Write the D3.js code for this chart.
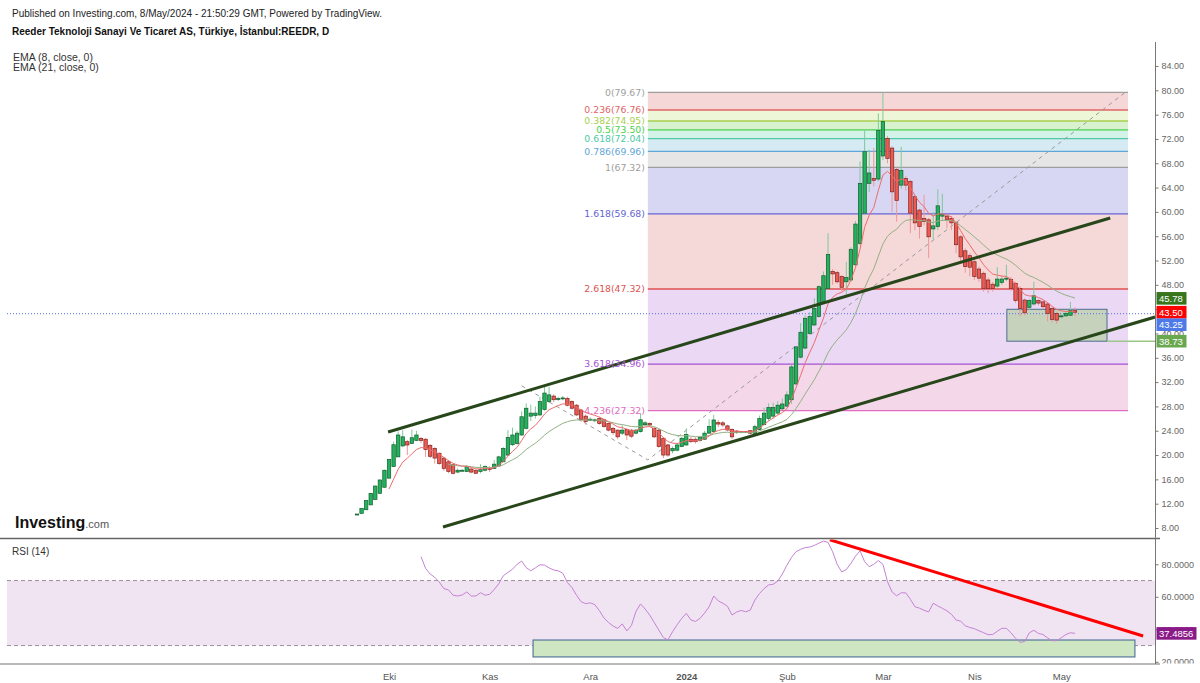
<!DOCTYPE html>
<html><head><meta charset="utf-8">
<script src="https://cdn.jsdelivr.net/npm/d3@7"></script>
<style>body{margin:0;background:#fff}svg{display:block}text{font-family:"Liberation Sans",Arial,sans-serif}</style>
</head><body><svg id="c" width="1200" height="683"></svg>
<script>
// ---------- DATA ----------
const openP=[10.25,10.4,11.0,11.8,12.7,13.7,14.7,16.2,18.1,19.7,
21.5,22.2,21.9,22.4,22.75,22.6,21.6,21.1,20.3,19.5,
18.9,18.4,17.2,17.5,17.3,17.7,17.5,17.3,17.5,17.8,
17.8,18.2,18.9,20.0,21.7,21.9,23.3,24.4,26.4,26.5,
26.6,27.5,28.8,29.7,29.3,29.3,29.3,28.8,28.2,27.4,
26.4,25.9,25.8,26.0,25.8,25.2,24.4,24.1,23.6,24.2,
24.1,23.6,23.85,25.0,25.2,24.4,24.1,22.76,21.66,20.7,
20.8,21.4,21.66,22.6,22.6,22.4,22.6,23.6,23.85,25.33,
25.3,24.8,24.2,23.95,23.85,23.85,24.0,23.58,24.2,25.0,
26.0,26.4,26.9,27.6,28.05,29.1,31.7,36.1,37.6,40.0,
41.4,42.8,45.2,47.4,50.2,50.0,49.35,48.5,48.8,51.3,
54.8,59.8,64.7,65.5,65.4,69.2,72.1,70.5,67.0,64.4,
65.5,65.0,62.5,60.3,58.9,58.7,57.2,57.6,59.3,59.3,
58.9,58.2,55.9,53.6,52.8,51.8,50.6,49.9,48.8,48.1,
47.8,48.4,49.0,48.9,48.25,47.4,45.5,44.3,44.85,45.4,
45.2,44.85,44.1,43.3,42.8,42.9,43.0,43.75];
const highP=[10.3,11.3,12.5,13.8,15.0,16.0,17.6,19.3,22.2,23.9,
24.1,22.5,24.2,24.0,23.0,22.8,21.8,21.3,20.4,19.6,
19.2,18.5,17.8,17.7,18.3,17.9,17.6,18.5,18.3,18.2,
19.2,19.9,21.3,24.1,24.5,24.0,27.2,28.5,28.3,28.0,
29.6,31.3,31.2,30.0,29.6,29.7,29.6,29.0,28.4,27.6,
26.7,26.2,26.0,26.3,25.9,25.3,24.6,24.2,24.9,24.4,
24.3,24.3,26.9,25.6,25.4,24.6,24.3,22.9,21.8,21.4,
22.0,23.0,24.4,23.0,22.9,23.2,24.0,25.9,26.6,25.8,
25.6,25.0,24.4,24.1,24.0,24.0,24.1,25.0,26.5,27.8,
28.5,28.6,28.9,29.3,30.5,34.8,37.9,41.7,43.0,43.5,
45.8,47.9,50.2,56.5,50.6,50.3,49.6,51.8,54.2,58.5,
68.3,73.4,70.2,70.5,76.2,79.67,72.5,70.8,67.3,70.7,
65.9,65.3,62.8,60.5,62.8,59.0,60.0,63.7,63.0,59.6,
59.3,58.5,56.2,54.0,53.2,52.2,51.0,50.2,49.2,48.5,
50.9,49.5,51.3,49.3,48.5,47.8,45.8,45.7,48.5,45.7,
45.4,45.1,44.4,43.6,43.2,43.7,45.2,44.3];
const lowP=[10.2,10.4,11.0,11.8,12.7,13.7,14.7,16.2,18.1,19.7,
21.3,20.0,21.9,22.3,22.0,19.7,19.5,18.6,18.4,17.4,
17.0,16.8,17.0,17.3,17.2,17.0,16.9,17.0,17.3,17.2,
17.7,18.1,18.8,19.8,21.5,21.7,23.2,24.2,25.6,26.0,
26.4,27.3,28.5,28.7,28.9,29.0,28.0,27.5,26.4,25.5,
25.0,25.6,25.4,25.0,24.5,23.9,23.3,22.6,23.3,22.5,
22.8,23.4,23.7,24.8,24.6,22.8,21.2,19.5,19.7,20.3,
20.6,21.3,21.5,22.0,21.9,22.2,22.5,23.5,23.7,24.6,
24.6,23.9,22.6,23.5,23.6,23.6,23.4,23.4,24.1,24.9,
25.6,26.0,26.6,27.4,27.9,28.4,31.5,35.9,37.4,39.8,
41.2,42.6,45.0,47.2,48.0,48.2,46.9,46.3,48.5,51.0,
54.5,59.5,63.3,64.2,65.0,68.5,68.0,60.0,58.4,63.8,
63.5,56.5,57.0,55.6,57.8,52.4,55.5,57.0,58.5,57.3,
57.0,53.2,51.8,50.0,49.4,48.8,48.5,46.9,46.6,46.9,
47.5,48.0,48.6,47.0,45.0,42.8,43.0,43.9,44.6,44.6,
44.1,42.0,41.8,41.6,42.5,42.7,42.9,42.9];
const closeP=[10.3,11.2,12.5,13.7,14.9,15.9,17.5,19.3,21.7,23.3,
23.0,21.65,22.85,23.3,22.4,20.9,19.8,19.5,18.6,17.8,
17.3,17.0,17.5,17.5,18.1,17.2,17.0,17.6,18.1,17.65,
18.5,19.7,21.1,22.9,23.3,23.6,26.3,27.7,26.9,26.9,
28.8,30.2,29.9,29.1,29.3,29.4,28.2,27.7,26.6,25.8,
25.5,25.9,25.8,25.2,24.7,24.1,23.7,23.0,24.1,23.3,
23.1,24.1,25.8,25.3,24.95,23.0,21.4,20.0,20.0,21.1,
21.66,22.76,23.4,22.2,22.2,22.9,23.6,24.7,25.77,25.1,
24.95,24.13,23.0,23.7,23.85,23.8,23.6,24.67,26.0,26.9,
27.8,27.8,28.2,28.4,29.9,34.5,37.8,40.2,42.5,42.8,
44.1,47.7,49.5,53.0,49.8,48.5,47.6,49.2,53.85,58.0,
64.7,69.9,66.4,65.2,73.4,74.85,68.8,63.3,61.9,66.8,
64.4,59.8,58.2,57.6,58.4,55.9,57.7,61.0,59.6,58.7,
58.2,54.6,52.6,51.0,50.9,49.35,49.1,47.4,47.4,47.4,
48.95,48.95,49.1,47.4,45.4,44.1,43.4,45.4,46.2,45.0,
44.4,43.3,42.3,42.2,42.9,43.3,43.75,43.5];
const rsiFirstBar=14;
const rsiValues=[84.7,77.5,74,72,69,65,64.3,61,60.5,61.1,
63,60.5,60.5,62.5,61,61.5,64.5,68,73,75,
77,80,82,78,76,77.8,79.7,79.5,77.8,76.5,
76,74.5,68.8,65.7,61,57,55.8,56.3,55.2,51.5,
47,44.2,42,40.6,43.3,39,42.3,51,55.6,52.5,
48.8,44.2,39.5,34.9,33.5,38.5,42.8,46.7,49.8,45.8,
44.8,46.7,50,53.9,60.5,57.5,56,54.2,48.8,50.6,
51.6,50.8,51.8,58,62,65,67.3,67.7,69.6,74,
79.4,84.2,87.8,89.2,90.3,90.6,91.6,93,94.3,93.5,
87.8,79.9,75.3,76.8,80.6,85,88.3,81.6,78.5,80,
82.3,80,69.3,63,60.6,62.5,62.4,58.5,53.9,53,
51.7,50.7,56,54.4,52.9,51.3,49.2,45.7,45,42.2,
41.1,40.4,39.1,37.9,36.7,36.8,38.8,40.6,40.6,37.9,
34.4,32,32.5,37.8,39.4,37.5,36.8,34.7,33,33,
34.8,36.8,37.9,37.4856];
const priceTicks=[8,12,16,20,24,28,32,36,40,44,48,52,56,60,64,68,72,76,80,84];
const rsiTicks=[20,40,60,80];
const monthLabels=["Eki","Kas","Ara","2024","Şub","Mar","Nis","May"];
const monthBars=[7,29,51,72,94,115,135,154];
const fibRatios=[0,0.236,0.382,0.5,0.618,0.786,1,1.618,2.618,3.618,4.236];
const fibPrices=[79.67,76.76,74.95,73.50,72.04,69.96,67.32,59.68,47.32,34.96,27.32];
const fibBars=[63.6,168.6];
const fibTrend=[[36,31.4],[63.6,19.2],[168,79.67]];
const channelUpper=[[6.8,23.79],[164.7,59.0]];
const channelLower=[[18.8,8.17],[174.5,42.7]];
const zoneBars=[142.1,164], zonePrices=[43.98,38.73];
const rayPrice=38.73, hLinePrice=43.25;
const markerValues=[45.78,43.50,43.25,38.73];
const rsiZoneBars=[38.5,170.1], rsiZoneValues=[33.4,23.0];
const rsiTrend=[[103.4,95.1],[171.9,35.9]];
const rsiBands=[70,30];

// ---------- LAYOUT ----------
const L=7,R=1155,T=42,MB=538.5,RB=664;
const svg=d3.select("#c");
const x=d3.scaleLinear().domain([0,157]).range([357,1075]);
const y=d3.scaleLinear().domain([8,84]).range([528,66]);
const yr=d3.scaleLinear().domain([20,80]).range([661.8,564.3]);
const defs=svg.append("defs");
defs.append("clipPath").attr("id","cm").append("rect").attr("x",L).attr("y",T).attr("width",R-L).attr("height",MB-T);
defs.append("clipPath").attr("id","cr").append("rect").attr("x",L).attr("y",MB+1).attr("width",R-L).attr("height",RB-MB-1);
defs.append("clipPath").attr("id","cra").append("rect").attr("x",R).attr("y",MB+1).attr("width",45).attr("height",RB-MB-1.5);

const main=svg.append("g").attr("clip-path","url(#cm)");
// fib
const fibLine=["#9e9e9e","#e06666","#a9cf4f","#4cd04c","#4fc9a6","#5fa6d8","#9e9e9e","#6464d6","#e05252","#a653d6","#e06cc0"];
const fibFill=["#f6d7d7","#eef6d8","#d8f2d0","#d3f3e8","#d6eaf4","#e6e6e6","#d7d7f3","#f5d8d8","#ead8f5","#f4d8ea"];
for(let k=1;k<fibPrices.length;k++){
  main.append("rect").attr("x",x(fibBars[0])).attr("width",x(fibBars[1])-x(fibBars[0]))
    .attr("y",y(fibPrices[k-1])).attr("height",y(fibPrices[k])-y(fibPrices[k-1])).attr("fill",fibFill[k-1]);
}
fibPrices.forEach((p,k)=>{
  main.append("line").attr("x1",x(fibBars[0])).attr("x2",x(fibBars[1])).attr("y1",y(p)).attr("y2",y(p))
    .attr("stroke",fibLine[k]).attr("stroke-width",1.3);
});
// zone
main.append("rect").attr("x",x(zoneBars[0])).attr("width",x(zoneBars[1])-x(zoneBars[0]))
  .attr("y",y(zonePrices[0])).attr("height",y(zonePrices[1])-y(zonePrices[0]))
  .attr("fill","#b9d0a8").attr("fill-opacity",0.75).attr("stroke","#4f6d8f").attr("stroke-width",1);
main.append("line").attr("x1",x(zoneBars[1])).attr("x2",R).attr("y1",y(rayPrice)).attr("y2",y(rayPrice))
  .attr("stroke","#9cc78a").attr("stroke-width",1.5);
main.append("line").attr("x1",L).attr("x2",R).attr("y1",y(hLinePrice)).attr("y2",y(hLinePrice))
  .attr("stroke","#4d6fe6").attr("stroke-width",1).attr("stroke-dasharray","1,2");
// fib trend dashed
const ln=d3.line().x(d=>x(d[0])).y(d=>y(d[1]));
main.append("path").attr("d",ln(fibTrend)).attr("fill","none").attr("stroke","#9a9a9a").attr("stroke-width",1).attr("stroke-dasharray","4,4");
// candles
const bars=d3.range(openP.length);
const cg=main.append("g");
cg.selectAll("line.w").data(bars).join("line").attr("class","w")
  .attr("x1",i=>x(i)).attr("x2",i=>x(i)).attr("y1",i=>y(highP[i])).attr("y2",i=>y(lowP[i]))
  .attr("stroke",i=>closeP[i]>=openP[i]?"#7fc99a":"#f29595").attr("stroke-width",1);
cg.selectAll("rect.b").data(bars).join("rect").attr("class","b")
  .attr("x",i=>x(i)-1.7).attr("width",3.4)
  .attr("y",i=>y(Math.max(openP[i],closeP[i])))
  .attr("height",i=>Math.max(1,y(Math.min(openP[i],closeP[i]))-y(Math.max(openP[i],closeP[i]))))
  .attr("fill",i=>closeP[i]>=openP[i]?"#1fb35c":"#ef5a50")
  .attr("stroke",i=>closeP[i]>=openP[i]?"#145c2e":"#7d2323").attr("stroke-width",0.7);
// EMA (indicator definition applied to closes)
function ema(v,n){const k=2/(n+1);let p=null;return v.map((c,i)=>{if(i<n-1)return null;if(i===n-1){p=d3.mean(v.slice(0,n));return p;}p=c*k+p*(1-k);return p;});}
const e8=ema(closeP,8), e21=ema(closeP,21);
const le=d3.line().defined(d=>d[1]!=null).x(d=>x(d[0])).y(d=>y(d[1]));
main.append("path").attr("d",le(e21.map((v,i)=>[i,v]))).attr("fill","none").attr("stroke","#93b083").attr("stroke-width",1);
main.append("path").attr("d",le(e8.map((v,i)=>[i,v]))).attr("fill","none").attr("stroke","#f06a6a").attr("stroke-width",1);
// channel
[channelUpper,channelLower].forEach(c=>main.append("path").attr("d",ln(c)).attr("fill","none").attr("stroke","#27461a").attr("stroke-width",3));
// fib labels
fibPrices.forEach((p,k)=>{
  svg.append("text").attr("x",x(fibBars[0])-3).attr("y",y(p)).attr("dy","0.35em").attr("text-anchor","end")
    .style("font-family","DejaVu Sans").style("font-size","9.3px").attr("fill",fibLine[k])
    .text(fibRatios[k]+"("+p.toFixed(2)+")");
});

// ---------- RSI pane ----------
const rg=svg.append("g").attr("clip-path","url(#cr)");
rg.append("rect").attr("x",L).attr("width",R-L).attr("y",yr(rsiBands[0])).attr("height",yr(rsiBands[1])-yr(rsiBands[0])).attr("fill","#f1e4f2");
rsiBands.forEach(b=>rg.append("line").attr("x1",L).attr("x2",R).attr("y1",yr(b)).attr("y2",yr(b)).attr("stroke","#a08aa0").attr("stroke-dasharray","4,3"));
rg.append("rect").attr("x",x(rsiZoneBars[0])).attr("width",x(rsiZoneBars[1])-x(rsiZoneBars[0]))
  .attr("y",yr(rsiZoneValues[0])).attr("height",yr(rsiZoneValues[1])-yr(rsiZoneValues[0]))
  .attr("fill","#cfe6c2").attr("stroke","#55789a").attr("stroke-width",1.2);
const lr=d3.line().x(d=>x(d[0])).y(d=>yr(d[1]));
rg.append("path").attr("d",lr(rsiValues.map((v,k)=>[k+rsiFirstBar,v]))).attr("fill","none").attr("stroke","#c383d2").attr("stroke-width",1);
rg.append("path").attr("d",lr(rsiTrend)).attr("fill","none").attr("stroke","#ff0000").attr("stroke-width",3);

// ---------- axes & frame ----------
svg.append("line").attr("x1",0).attr("x2",1160).attr("y1",MB).attr("y2",MB).attr("stroke","#666").attr("stroke-width",1.5);
svg.append("line").attr("x1",0).attr("x2",1160).attr("y1",RB).attr("y2",RB).attr("stroke","#777").attr("stroke-width",1.2);
svg.append("line").attr("x1",R+0.5).attr("x2",R+0.5).attr("y1",T).attr("y2",RB).attr("stroke","#777").attr("stroke-width",1);
const ya=svg.append("g").attr("transform",`translate(${R+0.5},0)`)
  .call(d3.axisRight(y).tickValues(priceTicks).tickFormat(d3.format(".2f")).tickSize(3).tickPadding(3));
ya.select(".domain").remove();
ya.selectAll("line").attr("stroke","#777");
ya.selectAll("text").attr("fill","#666").style("font-size","9px").style("font-family","Liberation Sans");
const rag=svg.append("g").attr("clip-path","url(#cra)");
const ra=rag.append("g").attr("transform",`translate(${R+0.5},0)`)
  .call(d3.axisRight(yr).tickValues(rsiTicks).tickFormat(d3.format(".4f")).tickSize(3).tickPadding(3));
ra.select(".domain").remove();
ra.selectAll("line").attr("stroke","#777");
ra.selectAll("text").attr("fill","#666").style("font-size","9px").style("font-family","Liberation Sans");
const xa=svg.append("g").attr("transform",`translate(0,${RB})`)
  .call(d3.axisBottom(x).tickValues(monthBars).tickFormat((d,i)=>monthLabels[i]).tickSize(0).tickPadding(9));
xa.select(".domain").remove();
xa.selectAll("text").attr("fill","#555").style("font-size","9.5px").style("font-family","Liberation Sans")
  .style("font-weight",(d,i)=>monthLabels[i]==="2024"?"bold":"normal");

// price markers
const markerBg=["#38761d","#ff0000","#4d7ae8","#6aa84f"];
let lastY=-1e9;
markerValues.map((v,k)=>({v,k,yy:y(v)})).sort((a,b)=>a.yy-b.yy).forEach(m=>{
  const yy=Math.max(m.yy,lastY+12.5); lastY=yy;
  svg.append("rect").attr("x",R+1.5).attr("y",yy-6.3).attr("width",30).attr("height",12.6).attr("fill",markerBg[m.k]);
  svg.append("text").attr("x",R+4).attr("y",yy).attr("dy","0.35em").attr("fill","#fff").style("font-size","9.5px").text(m.v.toFixed(2));
});
const rLast=rsiValues[rsiValues.length-1];
svg.append("rect").attr("x",R+1.5).attr("y",yr(rLast)-6.3).attr("width",40).attr("height",12.6).attr("fill","#8b1a89");
svg.append("text").attr("x",R+4).attr("y",yr(rLast)).attr("dy","0.35em").attr("fill","#fff").style("font-size","9.5px").text(rLast.toFixed(4));

// texts
svg.append("text").attr("x",12).attr("y",17).attr("fill","#222").style("font-size","10px")
  .text("Published on Investing.com, 8/May/2024 - 21:50:29 GMT, Powered by TradingView.");
svg.append("text").attr("x",12).attr("y",35).attr("fill","#111").style("font-size","10px").style("font-weight","bold")
  .text("Reeder Teknoloji Sanayi Ve Ticaret AS, Türkiye, İstanbul:REEDR, D");
svg.append("text").attr("x",13).attr("y",61).attr("fill","#333").style("font-size","10.5px").text("EMA (8, close, 0)");
svg.append("text").attr("x",13).attr("y",71).attr("fill","#333").style("font-size","10.5px").text("EMA (21, close, 0)");
svg.append("text").attr("x",12).attr("y",555).attr("fill","#333").style("font-size","10px").text("RSI (14)");
const logo=svg.append("text").attr("x",15).attr("y",528);
logo.append("tspan").style("font-size","16px").style("font-weight","bold").attr("fill","#111").text("Investing");
logo.append("tspan").style("font-size","11px").attr("fill","#555").text(".com");
</script></body></html>
